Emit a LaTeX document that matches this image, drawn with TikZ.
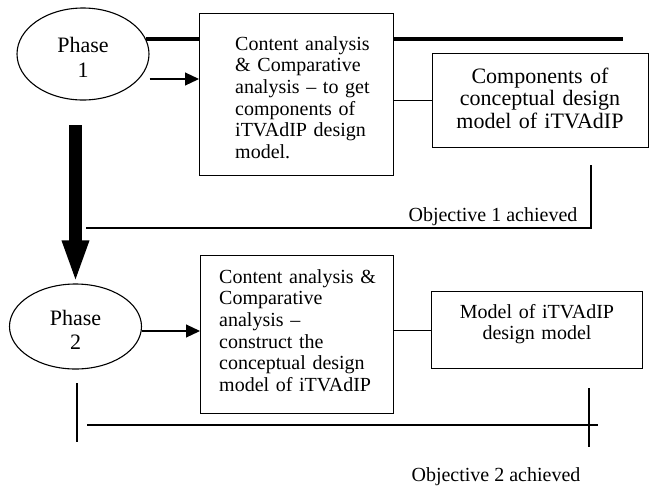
\documentclass[tikz,border=0pt]{standalone}
\usepackage{fontspec}
\setmainfont{Liberation Serif}
\usetikzlibrary{arrows.meta,shapes.geometric}
\begin{document}
\begin{tikzpicture}[x=1pt,y=-1pt,
  txt/.style={font=\fontsize{20}{21.7}\selectfont, inner sep=0pt},
  bigtxt/.style={font=\fontsize{22}{22.5}\selectfont, inner sep=0pt},
  box/.style={draw, line width=1.3pt, rectangle, inner sep=0pt},
  phase/.style={draw, line width=1.1pt, ellipse, inner sep=0pt, minimum width=132pt, minimum height=92pt},
  thin/.style={line width=1.2pt},
  thickbar/.style={line width=4pt},
  arr/.style={line width=1.2pt, -{Triangle[width=13pt,length=14pt]}},
  bigarr/.style={line width=13pt, -{Triangle[width=24pt,length=43pt]}}
]
\useasboundingbox (0,0) rectangle (650,485);
% ellipses
\node[phase] (p1) at (83,54) {};
\node[phase, minimum height=85pt] (p2) at (75.5,326.5) {};
\node[bigtxt, align=center, text width=70pt, anchor=base, font=\fontsize{22}{25}\selectfont] (p1t) at (83,52) {Phase\\1};
\node[bigtxt, align=center, text width=70pt, anchor=base, font=\fontsize{22}{24}\selectfont] (p2t) at (75.5,325) {Phase\\2};
% boxes
\node[box, minimum width=194pt, minimum height=162pt, anchor=north west] (b1) at (199,13) {};
\node[box, minimum width=216pt, minimum height=94pt, anchor=north west] (c1) at (432,53) {};
\node[box, minimum width=193pt, minimum height=158pt, anchor=north west] (b2) at (200,255) {};
\node[box, minimum width=211pt, minimum height=77pt, anchor=north west] (c2) at (431,291) {};
% texts
\node[txt, align=left, text width=160pt, anchor=base west] (b1t) at (235,50)
  {Content analysis\\\& Comparative\\analysis -- to get\\components of\\iTVAdIP design\\model.};
\node[txt, align=left, text width=175pt, anchor=base west] (b2t) at (219,283)
  {Content analysis \&\\Comparative\\analysis --\\construct the\\conceptual design\\model of iTVAdIP};
\node[bigtxt, align=center, text width=210pt, anchor=base] (c1t) at (540,83)
  {Components of\\conceptual design\\model of iTVAdIP};
\node[txt, align=center, text width=200pt, anchor=base] (c2t) at (537,318)
  {Model of iTVAdIP\\design model};
% top thick line
\coordinate (tlend) at (623,0);
\draw[thickbar] (p1.13) -- (p1.13 -| b1.west);
\draw[thickbar] (p1.13 -| b1.east) -- (p1.13 -| tlend);
% arrows phase -> box
\draw[arr] ([yshift=-25pt]p1.east) -- ([yshift=-25pt]p1.east -| b1.west);
\draw[arr] ([yshift=-4.5pt]p2.east) -- ([yshift=-4.5pt]p2.east -| b2.west);
% connectors box -> component
\draw[thin] (b1.east |- c1.west) -- (c1.west);
\draw[thin] (b2.east |- c2.west) -- (c2.west);
% thick arrow phase1 -> phase2
\coordinate (bigs) at (75.5,125);
\draw[bigarr] (bigs) -- (p2.north);
% objective 1
\coordinate (o1top) at (591,165);
\coordinate (o1corner) at (591,228);
\coordinate (o1left) at (86,228);
\draw[thin] (o1top) -- (o1corner) -- (o1left);
\node[txt, anchor=base] (o1t) at (493,221) {Objective 1 achieved};
% objective 2
\coordinate (o2a) at (77,383);
\coordinate (o2b) at (77,442);
\draw[thin] (o2a) -- (o2b);
\coordinate (o2l) at (87,425);
\coordinate (o2r) at (598,425);
\draw[thin] (o2l) -- (o2r);
\coordinate (o2c) at (589,388);
\coordinate (o2d) at (589,447);
\draw[thin] (o2c) -- (o2d);
\node[txt, anchor=base] (o2t) at (496,481) {Objective 2 achieved};
\end{tikzpicture}
\end{document}
